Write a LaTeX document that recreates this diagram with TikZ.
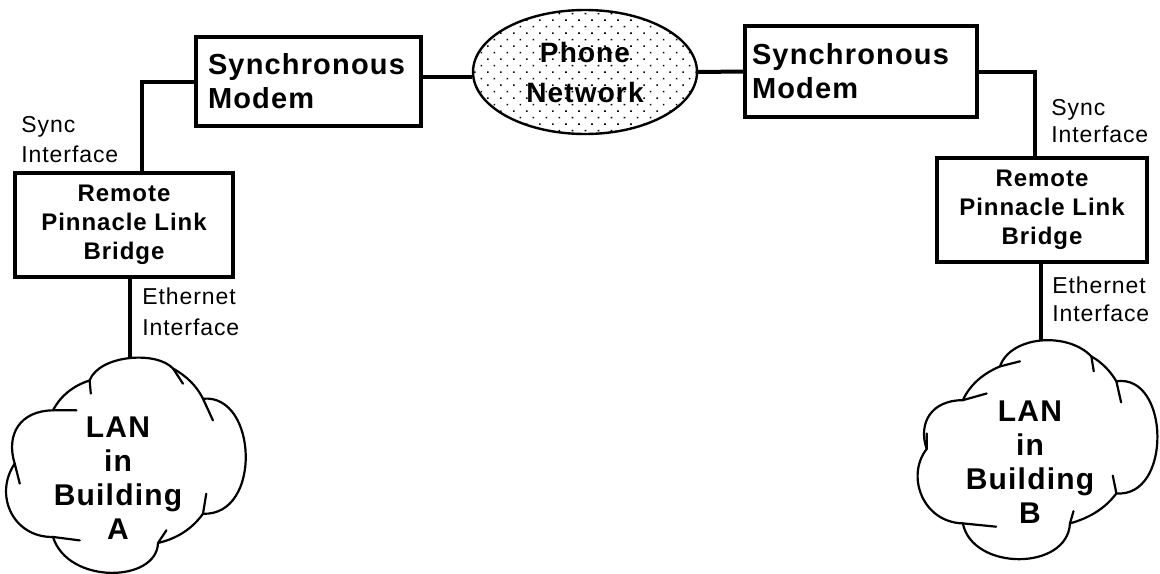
\documentclass[tikz,border=0pt]{standalone}
\usepackage{fontspec}
\setmainfont{Liberation Sans}[LetterSpace=4]
\usetikzlibrary{shapes.geometric,patterns.meta}
\begin{document}
\begin{tikzpicture}[x=0.5pt,y=-0.5pt,
  box/.style={draw, line width=1.6pt, inner sep=0pt},
  modembox/.style={box, align=left, font=\fontsize{14.5}{17}\bfseries\selectfont},
  bridgebox/.style={box, align=center, font=\fontsize{12}{14.5}\bfseries\selectfont},
  wire/.style={line width=2pt},
  iflabel/.style={anchor=west, align=left, inner sep=0pt},
  cloudline/.style={line width=1.1pt, line join=round, line cap=round},
  cloudtext/.style={align=center, inner sep=0pt, font=\fontsize{15}{17}\bfseries\selectfont},
  phonecloud/.style={ellipse, draw, line width=1.2pt, inner sep=0pt,
    pattern={Dots[distance=4.6pt,angle=45,radius=0.55pt]}, pattern color=black,
    align=center, font=\fontsize{14}{20}\bfseries\selectfont},
]
\path[use as bounding box, fill=white] (0,0) rectangle (1160,573);

% boxes
\node[modembox, minimum width=112.5pt, minimum height=44.5pt, text width=100.5pt, inner xsep=6pt]
  (modemL) at (308.5,81.5) {Synchronous\\Modem};
\node[modembox, minimum width=116pt, minimum height=45.5pt, text width=109pt, inner xsep=3.5pt]
  (modemR) at (861,71.5) {Synchronous\\Modem};
\node[phonecloud, minimum width=112pt, minimum height=62pt] (phone) at (585,72) {Phone\\Network};
\node[bridgebox, minimum width=109pt, minimum height=52pt] (bridgeL) at (124,225)
  {Remote\\Pinnacle Link\\Bridge};
\node[bridgebox, minimum width=105pt, minimum height=52pt] (bridgeR) at (1042,210)
  {Remote\\Pinnacle Link\\Bridge};

% interface labels
\node[iflabel, font=\fontsize{11.5}{15}\selectfont] (syncL) at (21,140) {Sync\\Interface};
\node[iflabel, font=\fontsize{11.5}{13.5}\selectfont] (syncR) at (1051,121.5) {Sync\\Interface};
\node[iflabel, font=\fontsize{11.5}{15.5}\selectfont] (ethL) at (142,311.5) {Ethernet\\Interface};
\node[iflabel, font=\fontsize{11.5}{14}\selectfont] (ethR) at (1052,299) {Ethernet\\Interface};

% LAN clouds
\begin{scope}[shift={(8,357)}, x=120pt, y=-107.5pt]
  \coordinate (topA) at (0.507,0.008);
  \draw[cloudline] (0.34,0.109) .. controls (0.38,-0.01) and (0.62,-0.03) .. (0.688,0.054)
    .. controls (0.745,0.089) and (0.786,0.135) .. (0.8125,0.194)
    .. controls (1.04,0.17) and (1.06,0.74) .. (0.8125,0.729)
    .. controls (0.768,0.798) and (0.706,0.844) .. (0.625,0.865)
    .. controls (0.62,1.05) and (0.25,1.06) .. (0.1875,0.837)
    .. controls (0.02,0.84) and (-0.06,0.64) .. (0.028,0.496)
    .. controls (-0.01,0.36) and (0.05,0.25) .. (0.1875,0.248)
    .. controls (0.218,0.182) and (0.269,0.135) .. (0.34,0.109);
  \draw[cloudline] (0.34,0.109) -- (0.345,0.17)
    (0.688,0.054) -- (0.729,0.124)
    (0.8125,0.194) -- (0.854,0.295)
    (0.8125,0.729) -- (0.826,0.636)
    (0.625,0.865) -- (0.66,0.806)
    (0.1875,0.837) -- (0.299,0.853)
    (0.028,0.496) -- (0.049,0.589)
    (0.1875,0.248) -- (0.285,0.248);
\end{scope}
\begin{scope}[shift={(920,338)}, x=119pt, y=-111pt]
  \coordinate (topB) at (0.51,0.008);
  \draw[cloudline] (0.336,0.128) .. controls (0.38,-0.01) and (0.62,-0.03) .. (0.72,0.083)
    .. controls (0.765,0.11) and (0.80,0.15) .. (0.825,0.195)
    .. controls (1.05,0.16) and (1.06,0.72) .. (0.825,0.70)
    .. controls (0.78,0.765) and (0.715,0.81) .. (0.63,0.835)
    .. controls (0.62,1.05) and (0.22,1.05) .. (0.18,0.835)
    .. controls (0.01,0.83) and (-0.06,0.62) .. (0.028,0.50)
    .. controls (-0.01,0.38) and (0.05,0.28) .. (0.18,0.28)
    .. controls (0.21,0.21) and (0.265,0.16) .. (0.336,0.128);
  \draw[cloudline] (0.336,0.128) -- (0.42,0.105)
    (0.72,0.083) -- (0.73,0.15)
    (0.825,0.195) -- (0.845,0.29)
    (0.825,0.70) -- (0.81,0.62)
    (0.63,0.835) -- (0.645,0.78)
    (0.18,0.835) -- (0.32,0.85)
    (0.028,0.50) -- (0.028,0.43)
    (0.18,0.28) -- (0.28,0.25);
\end{scope}
\node[cloudtext] (lanA) at (118,478) {LAN\\in\\Building\\A};
\node[cloudtext] (lanB) at (1030,462) {LAN\\in\\Building\\B};

% connectors
\draw[wire] ([yshift=2.25pt]modemL.east) -- ([yshift=-2.5pt]phone.west);
\draw[wire] (phone.east) -- (modemR.west);
\draw[wire] (modemL.west) -| ([xshift=9pt]bridgeL.north);
\draw[wire] (modemR.east) -| ([xshift=-3.5pt]bridgeR.north);
\draw[wire] (bridgeL.south -| topA) -- (topA);
\draw[wire] (bridgeR.south -| topB) -- (topB);
\end{tikzpicture}
\end{document}
